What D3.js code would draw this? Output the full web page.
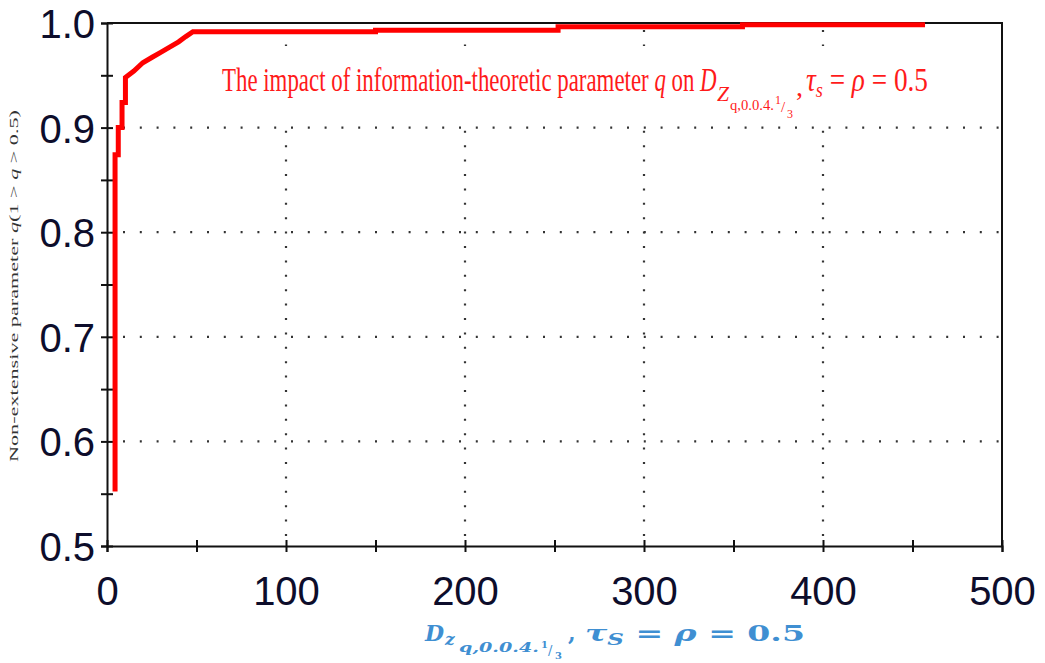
<!DOCTYPE html>
<html>
<head>
<meta charset="utf-8">
<script src="https://cdn.jsdelivr.net/npm/d3@7"></script>
<style>
  html, body { margin: 0; padding: 0; background: #fff; }
  svg { display: block; }
</style>
</head>
<body>
<svg id="chart" width="1045" height="663"></svg>
<script>
// ---- data ----
const dValues = [4.5, 4.5, 6.3, 6.3, 8.4, 8.4, 10.3, 10.3, 15, 20, 25, 30, 35, 40, 44, 48, 150, 150, 252, 252, 355, 355, 457];
const qValues = [0.552, 0.874, 0.874, 0.900, 0.900, 0.924, 0.924, 0.948, 0.954, 0.962, 0.967, 0.972, 0.977, 0.982, 0.987, 0.9916, 0.9916, 0.9931, 0.9931, 0.9965, 0.9965, 0.9984, 0.9984];
const xTickValues = [0, 50, 100, 150, 200, 250, 300, 350, 400, 450, 500];
const xLabelValues = [0, 100, 200, 300, 400, 500];
const yTickValues = [0.5, 0.55, 0.6, 0.65, 0.7, 0.75, 0.8, 0.85, 0.9, 0.95, 1.0];
const yLabelValues = [0.5, 0.6, 0.7, 0.8, 0.9, 1.0];
const xGridValues = [100, 200, 300, 400];
const yGridValues = [0.6, 0.7, 0.8, 0.9];

const points = dValues.map((d, i) => ({ d: d, q: qValues[i] }));

const svg = d3.select("#chart");
const L = 107, R = 1002, T = 23, B = 546;
const x = d3.scaleLinear().domain([0, 500]).range([L, R]);
const y = d3.scaleLinear().domain([0.5, 1.0]).range([B, T]);

// squeeze a text horizontally so it spans a given width
function fit(sel, x0, y0, width) {
  const w = sel.node().getComputedTextLength();
  sel.attr("x", 0).attr("y", 0)
     .attr("transform", `translate(${x0},${y0}) scale(${width / w},1)`);
  return sel;
}

// grid
const grid = svg.append("g");
grid.selectAll("line.v").data(xGridValues).join("line")
  .attr("x1", d => x(d)).attr("x2", d => x(d))
  .attr("y1", B - 10).attr("y2", T)
  .attr("stroke", "#333").attr("stroke-width", 2.2)
  .attr("stroke-dasharray", "2,12.4");
grid.selectAll("line.h").data(yGridValues).join("line")
  .attr("x1", L + 16).attr("x2", R)
  .attr("y1", d => y(d)).attr("y2", d => y(d))
  .attr("stroke", "#333").attr("stroke-width", 2.2)
  .attr("stroke-dasharray", "2,14.8");

// white backing behind the in-plot title
svg.append("rect").attr("x", 214).attr("y", 46).attr("width", 722).attr("height", 74).attr("fill", "#fff");

// frame (top & right)
svg.append("path")
  .attr("d", `M${L},${T}H${R}V${B}`)
  .attr("fill", "none").attr("stroke", "#111").attr("stroke-width", 2);

// axes
const labelFont = "'Liberation Sans', Arial, sans-serif";
const xAxis = svg.append("g").attr("transform", `translate(0,${B})`)
  .call(d3.axisBottom(x).tickValues(xTickValues).tickSize(6)
    .tickFormat(d => xLabelValues.includes(d) ? d3.format("d")(d) : ""));
xAxis.select(".domain").attr("stroke", "#111").attr("stroke-width", 2);
xAxis.selectAll(".tick line").attr("y1", -6).attr("y2", 6).attr("stroke", "#111").attr("stroke-width", 2);
xAxis.selectAll(".tick text")
  .attr("y", 59).attr("dy", 0)
  .attr("font-family", labelFont).attr("font-size", 40)
  .attr("fill", "#0d0d2b");

const yAxis = svg.append("g").attr("transform", `translate(${L},0)`)
  .call(d3.axisLeft(y).tickValues(yTickValues).tickSize(6)
    .tickFormat(d => yLabelValues.some(v => Math.abs(v - d) < 1e-9) ? d3.format(".1f")(d) : ""));
yAxis.select(".domain").attr("stroke", "#111").attr("stroke-width", 2);
yAxis.selectAll(".tick line").attr("x1", 6).attr("x2", -6).attr("stroke", "#111").attr("stroke-width", 2);
yAxis.selectAll(".tick text")
  .attr("x", -12).attr("dy", "0.36em")
  .attr("font-family", labelFont).attr("font-size", 40)
  .attr("fill", "#0d0d2b");

// the curve
const line = d3.line().x(p => x(p.d)).y(p => y(p.q));
svg.append("path").datum(points)
  .attr("d", line)
  .attr("fill", "none").attr("stroke", "#ff0000").attr("stroke-width", 5)
  .attr("stroke-linejoin", "miter");

// title inside plot (red)
const serif = "'Liberation Serif', 'Times New Roman', serif";
const title = svg.append("g").attr("fill", "#ff1a1a").attr("font-family", serif);
const t1 = title.append("text").attr("font-size", 33);
t1.append("tspan").text("The impact of information-theoretic parameter ");
t1.append("tspan").attr("font-style", "italic").text("q");
t1.append("tspan").text(" on ");
t1.append("tspan").attr("font-style", "italic").text("D");
fit(t1, 222, 91, 495);
fit(title.append("text").attr("font-size", 22).attr("font-style", "italic").text("Z"), 717, 101, 12);
fit(title.append("text").attr("font-size", 15).text("q,0.0.4."), 730, 110, 44);
title.append("text").attr("x", 775).attr("y", 104).attr("font-size", 12).text("1");
title.append("text").attr("x", 781).attr("y", 112).attr("font-size", 15).text("/");
title.append("text").attr("x", 787).attr("y", 118).attr("font-size", 12).text("3");
title.append("text").attr("x", 796).attr("y", 96).attr("font-size", 28).text(",");
const t2 = title.append("text").attr("font-size", 33);
t2.append("tspan").attr("font-style", "italic").text("τ");
t2.append("tspan").attr("font-style", "italic").attr("font-size", 22).attr("dy", 6).text("s");
t2.append("tspan").attr("dy", -6).text(" = ");
t2.append("tspan").attr("font-style", "italic").text("ρ");
t2.append("tspan").text(" = 0.5");
fit(t2, 806, 91, 122);

// y axis title
svg.append("text")
  .attr("transform", "translate(18,286) rotate(-90)")
  .attr("text-anchor", "middle")
  .attr("font-family", serif).attr("font-size", 13).attr("fill", "#333")
  .attr("textLength", 352).attr("lengthAdjust", "spacingAndGlyphs")
  .call(t => {
    t.append("tspan").text("Non-extensive parameter ");
    t.append("tspan").attr("font-style", "italic").text("q");
    t.append("tspan").text("(1 > ");
    t.append("tspan").attr("font-style", "italic").text("q");
    t.append("tspan").text(" > 0.5)");
  });

// x axis title (blue)
const xt = svg.append("g").attr("fill", "#3f8fd2").attr("font-family", "'DejaVu Serif', serif").attr("font-weight", "bold");
xt.append("text").attr("x", 425).attr("y", 641).attr("font-size", 22).attr("font-style", "italic").text("D");
xt.append("text").attr("x", 445).attr("y", 645).attr("font-size", 17).attr("font-style", "italic").text("z");
fit(xt.append("text").attr("font-size", 12).attr("font-style", "italic").text("q,0.0.4."), 459, 652, 80);
xt.append("text").attr("x", 541).attr("y", 648).attr("font-size", 10).text("1");
xt.append("text").attr("x", 548).attr("y", 655).attr("font-size", 13).attr("font-weight", "normal").text("/");
xt.append("text").attr("x", 555).attr("y", 659).attr("font-size", 10).text("3");
xt.append("text").attr("x", 568).attr("y", 641).attr("font-size", 22).text(",");
const xt2 = xt.append("text").attr("font-size", 23);
xt2.append("tspan").attr("font-style", "italic").text("τ");
xt2.append("tspan").attr("font-style", "italic").attr("font-size", 16).attr("dy", 4).text("S");
xt2.append("tspan").attr("dy", -4).text(" = ");
xt2.append("tspan").attr("font-style", "italic").text("ρ");
xt2.append("tspan").text(" = 0.5");
fit(xt2, 585, 641, 220);
</script>
</body>
</html>
